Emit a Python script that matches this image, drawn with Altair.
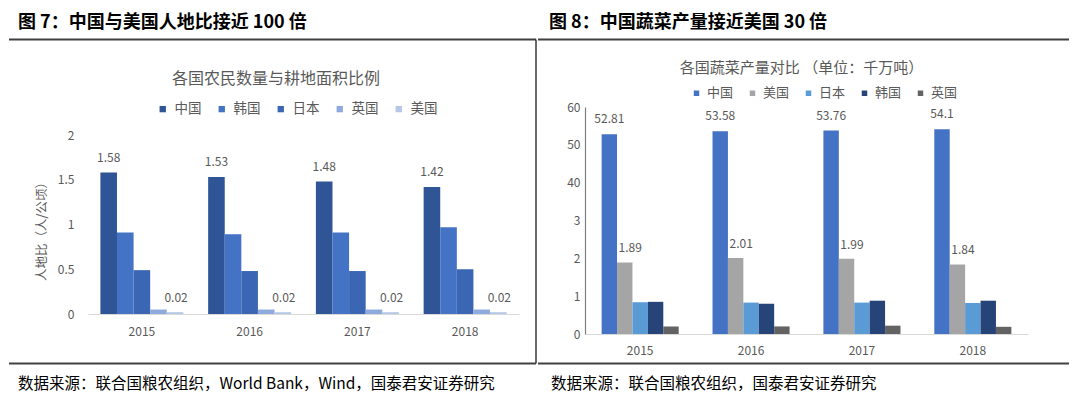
import altair as alt
import pandas as pd

# ---------------- data ----------------
years = ["2015", "2016", "2017", "2018"]

left_countries = ["中国", "韩国", "日本", "英国", "美国"]
left_colors = ["#2F5597", "#4472C4", "#3A66B4", "#8FAADC", "#B4C7E7"]
left_china = [1.58, 1.53, 1.48, 1.42]
left_korea = [0.91, 0.89, 0.91, 0.97]
left_japan = [0.49, 0.48, 0.48, 0.50]
left_uk = [0.05, 0.05, 0.05, 0.05]
left_usa = [0.02, 0.02, 0.02, 0.02]

right_countries = ["中国", "美国", "日本", "韩国", "英国"]
right_colors = ["#4472C4", "#A5A5A5", "#5B9BD5", "#264478", "#636363"]
right_china = [52.81, 53.58, 53.76, 54.1]
right_usa = [1.89, 2.01, 1.99, 1.84]
right_japan = [0.84, 0.83, 0.83, 0.82]
right_korea = [0.85, 0.80, 0.88, 0.88]
right_uk = [0.20, 0.20, 0.22, 0.19]

left_ticks = [0, 0.5, 1, 1.5, 2]
right_ticks = [0, 1, 2, 3, 40, 50, 60]

fig7_title = "图 7：中国与美国人地比接近 100 倍"
fig8_title = "图 8：中国蔬菜产量接近美国 30 倍"
left_chart_title = "各国农民数量与耕地面积比例"
right_chart_title = "各国蔬菜产量对比 （单位：千万吨）"
left_ytitle = "人地比（人/公顷）"
left_source = "数据来源：联合国粮农组织，World Bank，Wind，国泰君安证券研究"
right_source = "数据来源：联合国粮农组织，国泰君安证券研究"

FONT = "Noto Sans CJK SC"
GRAY = "#595959"
LINE = "#404040"


def long_df(countries, series):
    rows = []
    for c, vals in zip(countries, series):
        for y, v in zip(years, vals):
            rows.append({"year": y, "country": c, "value": v})
    return pd.DataFrame(rows)


df_left = long_df(left_countries, [left_china, left_korea, left_japan, left_uk, left_usa])
df_right = long_df(right_countries, [right_china, right_usa, right_japan, right_korea, right_uk])
one = pd.DataFrame({"k": [0]})

# Both panels share the same plot-area top and height (hconcat aligns plot origins).
H = 227

# ---------------- left panel ----------------
W1 = 431
U1 = 89.5                       # pixels per unit on the left value axis
lo1 = -20.0 / U1                # baseline sits 20px above the plot bottom
hi1 = 2 + 28.0 / U1             # value 2 sits 28px below the plot top
x1 = alt.X("year:N", title=None,
           scale=alt.Scale(paddingInner=0.23, paddingOuter=0.115),
           axis=alt.Axis(domainColor="#D9D9D9", domainWidth=1, ticks=False, labelAngle=0, offset=-20,
                         labelPadding=12, labelFont=FONT, labelFontSize=12, labelColor=GRAY))
y1 = alt.Y("value:Q",
           scale=alt.Scale(domain=[lo1, hi1], nice=False, zero=False),
           axis=alt.Axis(values=left_ticks, labelExpr="'' + datum.value", domain=False, ticks=False,
                         grid=False, labelPadding=14, labelFont=FONT, labelFontSize=12, labelColor=GRAY,
                         title=left_ytitle, titleX=-47, titleY=121, titleAngle=270, titleAlign="center",
                         titleBaseline="middle", titleFont=FONT, titleFontSize=12.5,
                         titleFontWeight="normal", titleColor=GRAY))
xo1 = alt.XOffset("country:N", scale=alt.Scale(domain=left_countries, paddingInner=0, paddingOuter=0))
c1 = alt.Color("country:N",
               scale=alt.Scale(domain=left_countries, range=left_colors),
               legend=alt.Legend(orient="none", legendX=68, legendY=-5, direction="horizontal",
                                 columns=5, title=None, symbolType="square", symbolSize=40,
                                 symbolStrokeWidth=0, labelFont=FONT, labelFontSize=13.5,
                                 labelColor=GRAY, labelOffset=5, columnPadding=13, padding=0))

base1 = alt.Chart(df_left)
bars1 = base1.mark_bar().encode(x=x1, xOffset=xo1, y=y1, y2=alt.datum(0), color=c1)
lab1a = base1.transform_filter(alt.datum.country == "中国").mark_text(
    dy=-15, baseline="middle", font=FONT, fontSize=12, color=GRAY
).encode(x=x1, xOffset=xo1, y=y1, text=alt.Text("value:Q", format=".4~g"))
lab1b = base1.transform_filter(alt.datum.country == "美国").mark_text(
    dy=-14, dx=1, baseline="middle", font=FONT, fontSize=12, color=GRAY
).encode(x=x1, xOffset=xo1, y=y1, text=alt.Text("value:Q", format=".4~g"))

d1 = alt.Chart(one)
top_guard1 = d1.mark_rule(color="white", strokeWidth=1).encode(
    x=alt.value(-79), x2=alt.value(448), y=alt.value(-98))
title7 = d1.mark_text(align="left", baseline="middle", font=FONT, fontSize=18, fontWeight="bold",
                      color="black").encode(x=alt.value(-70), y=alt.value(-84), text=alt.value(fig7_title))
topline1 = d1.mark_rule(color=LINE, strokeWidth=2).encode(
    x=alt.value(-79), x2=alt.value(448), y=alt.value(-67.5))
sep = d1.mark_rule(color="#1a1a1a", strokeWidth=1.3).encode(
    x=alt.value(448), y=alt.value(-67.5), y2=alt.value(256.5))
botline1 = d1.mark_rule(color=LINE, strokeWidth=2).encode(
    x=alt.value(-79), x2=alt.value(448), y=alt.value(256.5))
src1 = d1.mark_text(align="left", baseline="middle", font=FONT, fontSize=15.5,
                    color="black").encode(x=alt.value(-70), y=alt.value(277), text=alt.value(left_source))
ctitle1 = d1.mark_text(align="center", baseline="middle", font=FONT, fontSize=16,
                       color=GRAY).encode(x=alt.value(188), y=alt.value(-28), text=alt.value(left_chart_title))

left = alt.layer(top_guard1, title7, topline1, sep, botline1, src1, ctitle1,
                 bars1, lab1a, lab1b).properties(width=W1, height=H)

# ---------------- right panel ----------------
W2 = 443
u = H / 6.0
x2 = alt.X("year:N", title=None,
           scale=alt.Scale(paddingInner=0.305, paddingOuter=0.15),
           axis=alt.Axis(domainColor="#D9D9D9", domainWidth=1, ticks=False, labelAngle=0,
                         labelPadding=11, labelFont=FONT, labelFontSize=12, labelColor=GRAY))
y2 = alt.Y("value:Q",
           scale=alt.Scale(domain=[0, 3, 40, 60], range=[H, H - 3 * u, H - 4 * u, 0],
                           nice=False, zero=False),
           axis=alt.Axis(values=right_ticks, format="d", domain=True, domainColor="#7F7F7F",
                         domainWidth=1.2, ticks=False, grid=False, labelPadding=5, labelFont=FONT,
                         labelFontSize=12, labelColor=GRAY, title=None))
xo2 = alt.XOffset("country:N", scale=alt.Scale(domain=right_countries, paddingInner=0, paddingOuter=0))
c2 = alt.Color("country:N",
               scale=alt.Scale(domain=right_countries, range=right_colors),
               legend=alt.Legend(orient="none", legendX=105, legendY=-20.5, direction="horizontal",
                                 columns=5, title=None, symbolType="square", symbolSize=30,
                                 symbolStrokeWidth=0, labelFont=FONT, labelFontSize=13,
                                 labelColor=GRAY, labelOffset=4, columnPadding=12, padding=0))

base2 = alt.Chart(df_right)
bars2 = base2.mark_bar().encode(x=x2, xOffset=xo2, y=y2, y2=alt.datum(0), color=c2)
lab2a = base2.transform_filter(alt.datum.country == "中国").mark_text(
    dy=-15, baseline="middle", font=FONT, fontSize=12, color=GRAY
).encode(x=x2, xOffset=xo2, y=y2, text=alt.Text("value:Q", format=".4~g"))
lab2b = base2.transform_filter(alt.datum.country == "美国").mark_text(
    dy=-14, dx=5.5, baseline="middle", font=FONT, fontSize=12, color=GRAY
).encode(x=x2, xOffset=xo2, y=y2, text=alt.Text("value:Q", format=".4~g"))

d2 = alt.Chart(one)
top_guard2 = d2.mark_rule(color="white", strokeWidth=1).encode(
    x=alt.value(-47), x2=alt.value(484), y=alt.value(-98))
title8 = d2.mark_text(align="left", baseline="middle", font=FONT, fontSize=18, fontWeight="bold",
                      color="black").encode(x=alt.value(-36), y=alt.value(-84), text=alt.value(fig8_title))
topline2 = d2.mark_rule(color=LINE, strokeWidth=2).encode(
    x=alt.value(-47), x2=alt.value(484), y=alt.value(-67.5))
botline2 = d2.mark_rule(color=LINE, strokeWidth=2).encode(
    x=alt.value(-47), x2=alt.value(484), y=alt.value(256.5))
src2 = d2.mark_text(align="left", baseline="middle", font=FONT, fontSize=15.5,
                    color="black").encode(x=alt.value(-34), y=alt.value(277), text=alt.value(right_source))
ctitle2 = d2.mark_text(align="center", baseline="middle", font=FONT, fontSize=15,
                       color=GRAY).encode(x=alt.value(216.5), y=alt.value(-39), text=alt.value(right_chart_title))

right = alt.layer(top_guard2, title8, topline2, botline2, src2, ctitle2,
                  bars2, lab2a, lab2b).properties(width=W2, height=H)

chart = alt.hconcat(left, right, spacing=0).resolve_scale(
    color="independent", x="independent", y="independent", xOffset="independent"
).resolve_legend(color="independent").properties(padding=0).configure_view(stroke=None)

chart.save("out.html", embed_options={"renderer": "svg", "actions": False})
